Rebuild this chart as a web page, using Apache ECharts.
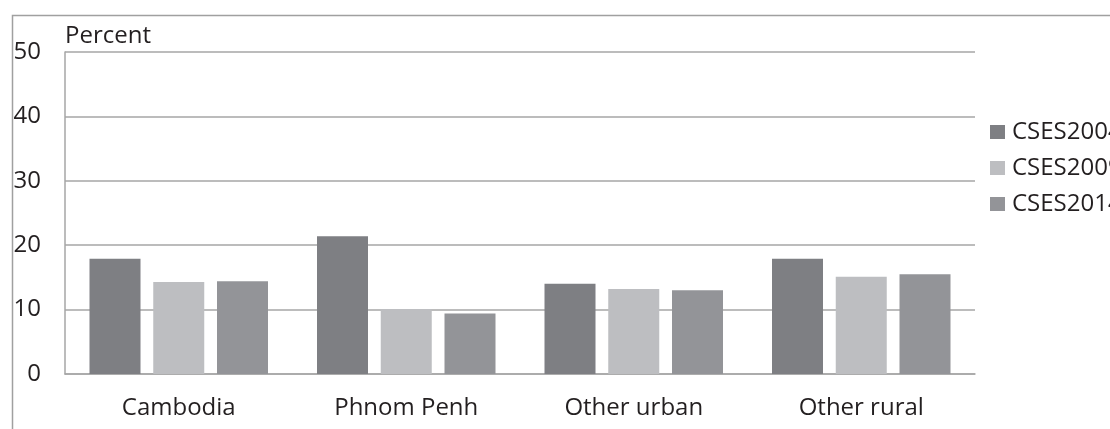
<!DOCTYPE html>
<html>
<head>
<meta charset="utf-8">
<script src="https://cdn.jsdelivr.net/npm/echarts@6/dist/echarts.min.js"></script>
<style>
html,body{margin:0;padding:0;background:#fff;}
#c{width:1110px;height:429px;}
</style>
</head>
<body>
<div id="c"></div>
<script>
const categories = ['Cambodia', 'Phnom Penh', 'Other urban', 'Other rural'];
const seriesNames = ['CSES2004', 'CSES2009', 'CSES2014'];
const cses2004 = [17.9, 21.4, 14.0, 17.9];
const cses2009 = [14.3, 10.1, 13.2, 15.1];
const cses2014 = [14.4, 9.4, 13.0, 15.5];
const yTicks = [0, 10, 20, 30, 40, 50];

const colors = ['#7e7f83', '#bdbec1', '#939498'];
const font = 'Open Sans';
const txt = '#231f20';
const fs = 24;

const chart = echarts.init(document.getElementById('c'), null, {renderer: 'canvas'});
const values = [cses2004, cses2009, cses2014];
chart.setOption({
  animation: false,
  color: colors,
  textStyle: {fontFamily: font, color: txt},
  graphic: [{
    type: 'rect', left: 10, top: 13, silent: true,
    shape: {x: 0, y: 0, width: 1300, height: 600},
    style: {fill: 'none', stroke: '#a0a0a0', lineWidth: 1.5}
  }],
  grid: {left: 65, right: 135, top: 52, bottom: 55, containLabel: false},
  legend: {
    orient: 'vertical', left: 990, top: 120, padding: 0,
    itemWidth: 15, itemHeight: 14, itemGap: 12,
    icon: 'rect',
    data: seriesNames,
    textStyle: {fontFamily: font, fontSize: fs, color: txt, padding: [0, 0, 0, 2]}
  },
  xAxis: {
    type: 'category', data: categories,
    axisLine: {show: true, lineStyle: {color: '#a6a6a6', width: 1.5}},
    axisTick: {show: false},
    axisLabel: {fontFamily: font, fontSize: fs, color: txt, margin: 22}
  },
  yAxis: {
    type: 'value', min: yTicks[0], max: yTicks[yTicks.length - 1], interval: 10,
    name: 'Percent', nameLocation: 'end', nameGap: 4,
    nameTextStyle: {fontFamily: font, fontSize: fs, color: txt, align: 'left', verticalAlign: 'bottom'},
    axisLine: {show: true, lineStyle: {color: '#a6a6a6', width: 1.5}},
    axisTick: {show: false},
    splitLine: {show: true, lineStyle: {color: '#a6a6a6', width: 1.5}},
    axisLabel: {fontFamily: font, fontSize: fs, color: txt, margin: 24}
  },
  series: seriesNames.map((n, i) => ({
    name: n, type: 'bar', data: values[i],
    barWidth: 51, barGap: '25%',
    itemStyle: {color: colors[i]}
  }))
});
</script>
</body>
</html>
